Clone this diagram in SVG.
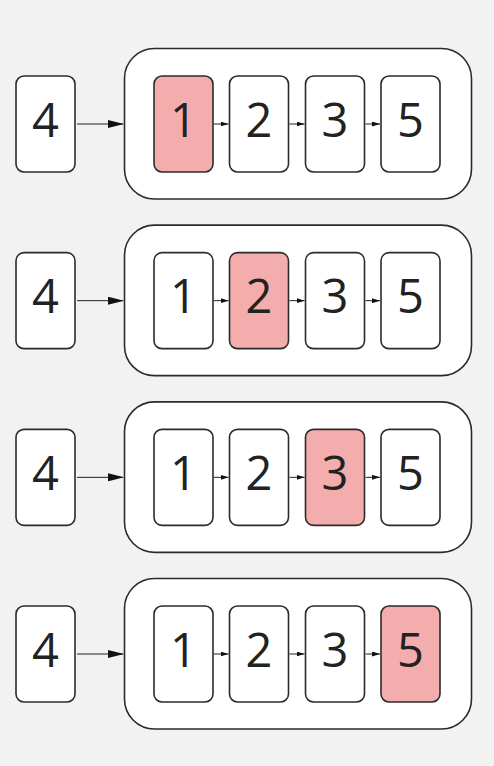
<svg xmlns="http://www.w3.org/2000/svg" width="494" height="766" viewBox="0 0 494 766">
<style>
.bg{fill:#f2f2f2}
.box{fill:#fff;stroke:#2b2b2b;stroke-width:1.6}
.hl{fill:#f4adad}
.outer{fill:#fff;stroke:#2b2b2b;stroke-width:1.6}
.t{font-family:"Open Sans","Noto Sans",sans-serif;font-size:47px;fill:#222;text-anchor:middle}
.c{stroke:#222;stroke-width:1;fill:none}
</style>
<defs>
<marker id="big" markerWidth="16" markerHeight="8" refX="15" refY="4" orient="auto" markerUnits="userSpaceOnUse"><path d="M0,0 L16,4 L0,8 Z" fill="#111"/></marker>
<marker id="sm" markerWidth="8" markerHeight="5" refX="8" refY="2.5" orient="auto" markerUnits="userSpaceOnUse"><path d="M0,0 L8,2.5 L0,5 Z" fill="#111"/></marker>
</defs>
<rect class="bg" width="494" height="766"/>
<g id="row1">
<g id="r1-container"><rect class="outer" x="124.5" y="48.5" width="347" height="150.5" rx="30"/></g>
<g id="r1-n4"><rect class="box" x="16" y="76" width="59" height="96" rx="8"/><text class="t" x="45.5" y="136.5">4</text></g>
<g id="r1-n1"><rect class="box hl" x="154" y="76" width="59" height="96" rx="8"/><text class="t" x="183.5" y="136.5">1</text></g>
<g id="r1-n2"><rect class="box" x="229.5" y="76" width="59" height="96" rx="8"/><text class="t" x="259" y="136.5">2</text></g>
<g id="r1-n3"><rect class="box" x="305.5" y="76" width="59" height="96" rx="8"/><text class="t" x="335" y="136.5">3</text></g>
<g id="r1-n5"><rect class="box" x="381" y="76" width="59" height="96" rx="8"/><text class="t" x="410.5" y="136.5">5</text></g>
<g id="r1-connectors">
<line class="c" x1="77" y1="124" x2="123" y2="124" marker-end="url(#big)"/>
<line class="c" x1="214" y1="124" x2="228.5" y2="124" marker-end="url(#sm)"/>
<line class="c" x1="289.5" y1="124" x2="304.5" y2="124" marker-end="url(#sm)"/>
<line class="c" x1="365.5" y1="124" x2="380" y2="124" marker-end="url(#sm)"/>
</g>
</g>
<g id="row2" transform="translate(0,176.67)">
<g id="r2-container"><rect class="outer" x="124.5" y="48.5" width="347" height="150.5" rx="30"/></g>
<g id="r2-n4"><rect class="box" x="16" y="76" width="59" height="96" rx="8"/><text class="t" x="45.5" y="136.5">4</text></g>
<g id="r2-n1"><rect class="box" x="154" y="76" width="59" height="96" rx="8"/><text class="t" x="183.5" y="136.5">1</text></g>
<g id="r2-n2"><rect class="box hl" x="229.5" y="76" width="59" height="96" rx="8"/><text class="t" x="259" y="136.5">2</text></g>
<g id="r2-n3"><rect class="box" x="305.5" y="76" width="59" height="96" rx="8"/><text class="t" x="335" y="136.5">3</text></g>
<g id="r2-n5"><rect class="box" x="381" y="76" width="59" height="96" rx="8"/><text class="t" x="410.5" y="136.5">5</text></g>
<g id="r2-connectors">
<line class="c" x1="77" y1="124" x2="123" y2="124" marker-end="url(#big)"/>
<line class="c" x1="214" y1="124" x2="228.5" y2="124" marker-end="url(#sm)"/>
<line class="c" x1="289.5" y1="124" x2="304.5" y2="124" marker-end="url(#sm)"/>
<line class="c" x1="365.5" y1="124" x2="380" y2="124" marker-end="url(#sm)"/>
</g>
</g>
<g id="row3" transform="translate(0,353.33)">
<g id="r3-container"><rect class="outer" x="124.5" y="48.5" width="347" height="150.5" rx="30"/></g>
<g id="r3-n4"><rect class="box" x="16" y="76" width="59" height="96" rx="8"/><text class="t" x="45.5" y="136.5">4</text></g>
<g id="r3-n1"><rect class="box" x="154" y="76" width="59" height="96" rx="8"/><text class="t" x="183.5" y="136.5">1</text></g>
<g id="r3-n2"><rect class="box" x="229.5" y="76" width="59" height="96" rx="8"/><text class="t" x="259" y="136.5">2</text></g>
<g id="r3-n3"><rect class="box hl" x="305.5" y="76" width="59" height="96" rx="8"/><text class="t" x="335" y="136.5">3</text></g>
<g id="r3-n5"><rect class="box" x="381" y="76" width="59" height="96" rx="8"/><text class="t" x="410.5" y="136.5">5</text></g>
<g id="r3-connectors">
<line class="c" x1="77" y1="124" x2="123" y2="124" marker-end="url(#big)"/>
<line class="c" x1="214" y1="124" x2="228.5" y2="124" marker-end="url(#sm)"/>
<line class="c" x1="289.5" y1="124" x2="304.5" y2="124" marker-end="url(#sm)"/>
<line class="c" x1="365.5" y1="124" x2="380" y2="124" marker-end="url(#sm)"/>
</g>
</g>
<g id="row4" transform="translate(0,530)">
<g id="r4-container"><rect class="outer" x="124.5" y="48.5" width="347" height="150.5" rx="30"/></g>
<g id="r4-n4"><rect class="box" x="16" y="76" width="59" height="96" rx="8"/><text class="t" x="45.5" y="136.5">4</text></g>
<g id="r4-n1"><rect class="box" x="154" y="76" width="59" height="96" rx="8"/><text class="t" x="183.5" y="136.5">1</text></g>
<g id="r4-n2"><rect class="box" x="229.5" y="76" width="59" height="96" rx="8"/><text class="t" x="259" y="136.5">2</text></g>
<g id="r4-n3"><rect class="box" x="305.5" y="76" width="59" height="96" rx="8"/><text class="t" x="335" y="136.5">3</text></g>
<g id="r4-n5"><rect class="box hl" x="381" y="76" width="59" height="96" rx="8"/><text class="t" x="410.5" y="136.5">5</text></g>
<g id="r4-connectors">
<line class="c" x1="77" y1="124" x2="123" y2="124" marker-end="url(#big)"/>
<line class="c" x1="214" y1="124" x2="228.5" y2="124" marker-end="url(#sm)"/>
<line class="c" x1="289.5" y1="124" x2="304.5" y2="124" marker-end="url(#sm)"/>
<line class="c" x1="365.5" y1="124" x2="380" y2="124" marker-end="url(#sm)"/>
</g>
</g>
</svg>
